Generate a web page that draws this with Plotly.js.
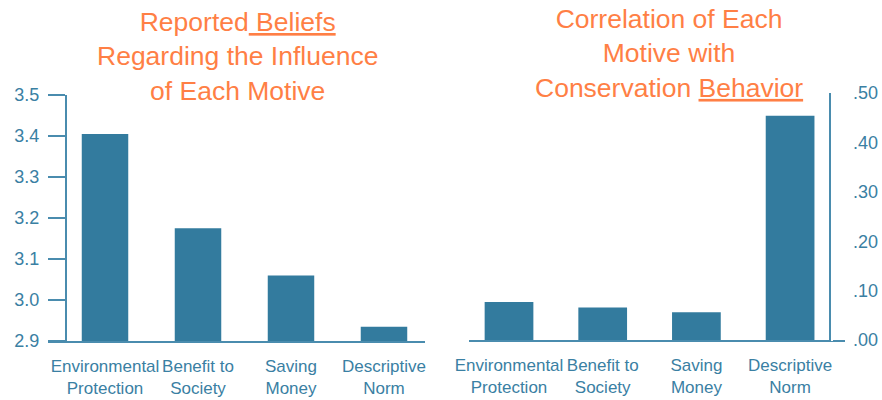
<!DOCTYPE html>
<html>
<head>
<meta charset="utf-8">
<script src="https://cdn.plot.ly/plotly-3.0.1.min.js"></script>
<style>html,body{margin:0;padding:0;background:#fff;}#chart{width:882px;height:400px;}</style>
</head>
<body>
<div id="chart"></div>
<script>
// Data
const categories = ["Environmental<br>Protection", "Benefit to<br>Society", "Saving<br>Money", "Descriptive<br>Norm"];
const beliefValues = [3.405, 3.175, 3.06, 2.935];
const correlationValues = [0.077, 0.066, 0.056, 0.454];
const beliefTicks = [2.9, 3.0, 3.1, 3.2, 3.3, 3.4, 3.5];
const beliefTickText = ["2.9", "3.0", "3.1", "3.2", "3.3", "3.4", "3.5"];
const corrTicks = [0, 0.1, 0.2, 0.3, 0.4, 0.5];
const corrTickText = [".00", ".10", ".20", ".30", ".40", ".50"];
const leftTitle = "Reported<u> Beliefs</u><br>Regarding the Influence<br>of Each Motive";
const rightTitle = "Correlation of Each<br>Motive with<br>Conservation <u>Behavior</u>";

const barColor = "#337b9e";
const textColor = "#3a80a3";
const lineColor = "#4a8cae";
const orange = "#ff7f45";
const fontFam = "Arial, 'Liberation Sans', sans-serif";

const traces = [
  {type: "bar", x: categories, y: beliefValues, xaxis: "x", yaxis: "y",
   marker: {color: barColor}, width: 0.5, hoverinfo: "skip", cliponaxis: true},
  {type: "bar", x: categories, y: correlationValues, xaxis: "x2", yaxis: "y2",
   marker: {color: barColor}, width: 0.52, hoverinfo: "skip"}
];

const axFont = {family: fontFam, size: 17, color: textColor};

const layout = {
  width: 882, height: 400,
  margin: {l: 0, r: 0, t: 0, b: 0},
  paper_bgcolor: "#fff", plot_bgcolor: "rgba(0,0,0,0)",
  showlegend: false,
  font: {family: fontFam, color: textColor},
  xaxis: {domain: [48/882, 425/882], anchor: "y", type: "category",
    range: [-0.613, 3.441], showline: true, linecolor: lineColor, linewidth: 1.5,
    ticks: "", showgrid: false, zeroline: false, tickfont: axFont, tickangle: 0,
    ticklabelstandoff: 9, fixedrange: true},
  yaxis: {domain: [59/400, 305/400], anchor: "free", position: 65/882,
    range: [2.9, 3.5], tickvals: beliefTicks, ticktext: beliefTickText,
    showline: true, linecolor: lineColor, linewidth: 1.5,
    ticks: "outside", ticklen: 17, tickcolor: lineColor, tickwidth: 1.5,
    showgrid: false, zeroline: false, tickfont: {family: fontFam, size: 18, color: textColor},
    ticklabelstandoff: 5, fixedrange: true},
  xaxis2: {domain: [469/882, 845/882], anchor: "y2", type: "category",
    range: [-0.427, 3.586], showline: true, linecolor: lineColor, linewidth: 1.5,
    ticks: "", showgrid: false, zeroline: false, tickfont: axFont, tickangle: 0,
    ticklabelstandoff: 9, fixedrange: true},
  yaxis2: {domain: [60/400, 307/400], anchor: "free", position: 829/882, side: "right",
    range: [0, 0.5], tickvals: corrTicks, ticktext: corrTickText,
    showline: true, linecolor: lineColor, linewidth: 1.5,
    ticks: "outside", ticklen: 2, tickcolor: "#ffffff", tickwidth: 1.5,
    showgrid: false, zeroline: false, tickfont: {family: fontFam, size: 18, color: textColor},
    ticklabelstandoff: 17, fixedrange: true},
  annotations: [
    {text: leftTitle, xref: "paper", yref: "paper", x: 237/882, y: 1 - 5/400,
     xanchor: "center", yanchor: "top", showarrow: false, align: "center",
     font: {family: fontFam, size: 26.5, color: orange}},
    {text: rightTitle, xref: "paper", yref: "paper", x: 669/882, y: 1 - 2/400,
     xanchor: "center", yanchor: "top", showarrow: false, align: "center",
     font: {family: fontFam, size: 26.5, color: orange}}
  ]
};

Plotly.newPlot("chart", traces, layout, {displayModeBar: false, staticPlot: true});
</script>
</body>
</html>
